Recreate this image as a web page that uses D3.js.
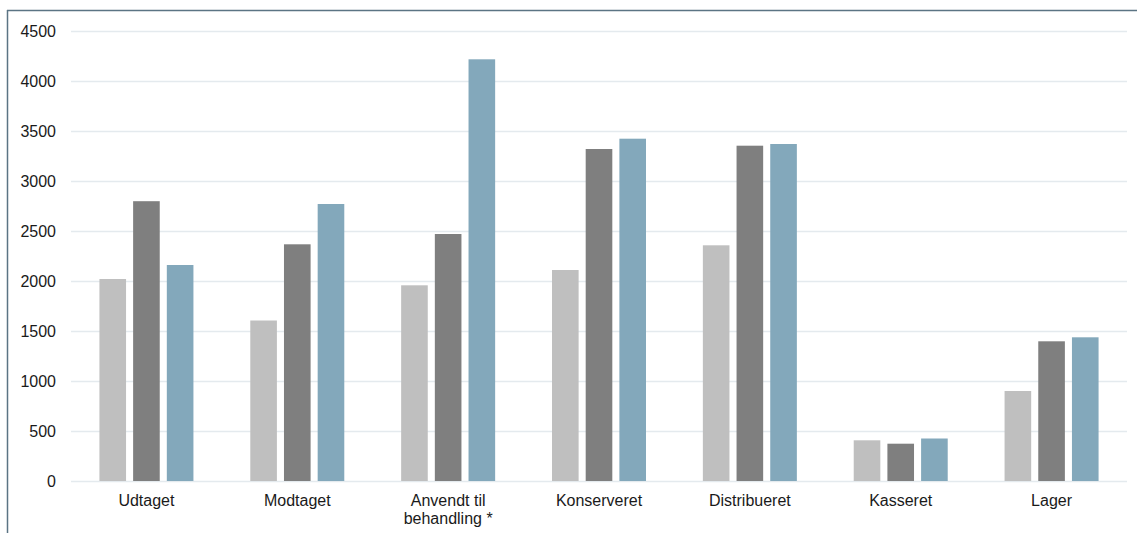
<!DOCTYPE html>
<html>
<head>
<meta charset="utf-8">
<script src="https://cdn.jsdelivr.net/npm/d3@7"></script>
<style>
  html, body { margin: 0; padding: 0; background: #fff; }
  svg { display: block; }
  text { font-family: "Liberation Sans", Arial, sans-serif; fill: #1a1a1a; }
</style>
</head>
<body>
<svg id="chart" width="1137" height="533"></svg>
<script>
// Categories along the x axis (multi-line labels split on "\n")
const categories = ["Udtaget", "Modtaget", "Anvendt til\nbehandling *", "Konserveret", "Distribueret", "Kasseret", "Lager"];

// Three series, one value per category
const seriesA = [2020, 1605, 1957, 2110, 2357, 407, 900];
const seriesB = [2798, 2367, 2470, 3320, 3353, 373, 1397];
const seriesC = [2160, 2770, 4217, 3423, 3370, 425, 1437];

const seriesKeys = ["a", "b", "c"];
const seriesColors = ["#bfbfbf", "#7f7f7f", "#83a8bb"];

// Y-axis ticks
const yTicks = [0, 500, 1000, 1500, 2000, 2500, 3000, 3500, 4000, 4500];

const rows = categories.map((c, i) => ({ cat: c, a: seriesA[i], b: seriesB[i], c: seriesC[i] }));

const svg = d3.select("#chart");
const margin = { left: 71, right: 10, top: 31, bottom: 52 };
const W = 1137, H = 533;

const x0 = d3.scaleBand().domain(categories).range([margin.left, W - margin.right]).padding(0);
const groupW = 94;
const x1 = d3.scaleBand().domain(seriesKeys).range([0, groupW]).paddingInner(0.21).paddingOuter(0);
const y = d3.scaleLinear().domain([0, 4500]).range([H - margin.bottom, margin.top]);
const color = d3.scaleOrdinal().domain(seriesKeys).range(seriesColors);

// Frame lines (top and left)
svg.append("line").attr("x1", 7).attr("x2", W).attr("y1", 10.5).attr("y2", 10.5)
  .attr("stroke", "#5b7484").attr("stroke-width", 1.5);
svg.append("line").attr("x1", 7.5).attr("x2", 7.5).attr("y1", 10).attr("y2", H)
  .attr("stroke", "#5b7484").attr("stroke-width", 1.5);

// Gridlines
svg.append("g").selectAll("line").data(yTicks).join("line")
  .attr("x1", margin.left).attr("x2", W - margin.right)
  .attr("y1", d => Math.round(y(d)) + 0.5).attr("y2", d => Math.round(y(d)) + 0.5)
  .attr("stroke", "#e4eaee").attr("stroke-width", 1.5);

// Y axis labels
const yAxis = d3.axisLeft(y).tickValues(yTicks).tickSize(0).tickPadding(0).tickFormat(d3.format("d"));
const gy = svg.append("g").attr("transform", `translate(56,0)`).call(yAxis);
gy.select(".domain").remove();
gy.selectAll("text").attr("font-size", 16).attr("fill", "#1a1a1a")
  .style("font-family", "'Liberation Sans', Arial, sans-serif");

// Bars
const groups = svg.append("g").selectAll("g").data(rows).join("g")
  .attr("transform", d => `translate(${x0(d.cat) + x0.bandwidth() / 2 - groupW / 2},0)`);
groups.selectAll("rect").data(d => seriesKeys.map(k => ({ key: k, value: d[k] }))).join("rect")
  .attr("x", d => x1(d.key))
  .attr("width", x1.bandwidth())
  .attr("y", d => y(d.value))
  .attr("height", d => y(0) - y(d.value))
  .attr("fill", d => color(d.key));

// X axis category labels
const xAxis = d3.axisBottom(x0).tickSize(0).tickFormat("");
const gx = svg.append("g").attr("transform", `translate(0,${y(0)})`).call(xAxis);
gx.select(".domain").remove();
gx.selectAll(".tick").each(function (d) {
  const t = d3.select(this).append("text")
    .attr("text-anchor", "middle").attr("font-size", 16).attr("fill", "#1a1a1a");
  d.split("\n").forEach((line, i) => {
    t.append("tspan").attr("x", 0).attr("y", 25 + i * 18).text(line);
  });
});
</script>
</body>
</html>
